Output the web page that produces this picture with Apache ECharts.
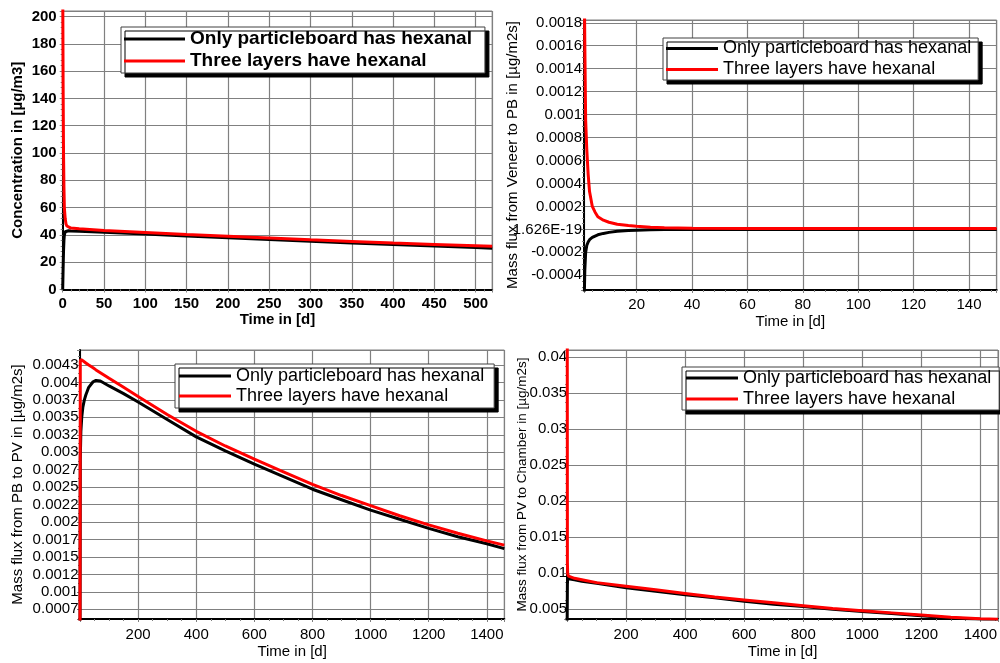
<!DOCTYPE html>
<html><head><meta charset="utf-8">
<script src="https://cdn.jsdelivr.net/npm/echarts@6/dist/echarts.min.js"></script>
<style>html,body{margin:0;padding:0;background:#fff}#c{width:1000px;height:663px}</style>
</head><body><div id="c"></div>
<script>
const seriesNames = ['Only particleboard has hexanal', 'Three layers have hexanal'];

// Panel 1: concentration in chamber
const t1 = [0, 0.5, 1, 1.5, 2, 3, 4, 5, 7, 10, 20, 50, 100, 150, 200, 250, 300, 350, 400, 450, 500, 520];
const concOnly  = [0, 15, 28, 36, 40, 42.3, 42.8, 43.0, 43.0, 42.9, 42.6, 41.9, 40.6, 39.2, 37.9, 36.6, 35.3, 34.1, 32.9, 31.8, 30.7, 30.3];
const concThree = [230, 150, 100, 75, 60, 52, 48, 46.5, 45.5, 45, 44.5, 43.3, 41.8, 40.3, 39.0, 37.7, 36.4, 35.2, 34.0, 33.0, 32.0, 31.6];

// Panel 2: mass flux veneer -> PB
const t2 = [1, 1.3, 1.6, 2, 2.5, 3, 4, 5, 6, 8, 10, 13, 17, 20, 25, 30, 40, 60, 100, 150];
const fluxVPOnly  = [-0.0007, -0.00035, -0.0002, -0.00014, -0.00011, -0.00009, -0.00007, -0.000058, -0.000047, -0.000035, -0.000026, -0.000017, -0.00001, -0.000007, -0.000004, -0.000002, -0.000001, 0, 0, 0];
const fluxVPThree = [0.0024, 0.0016, 0.00095, 0.0007, 0.00048, 0.00033, 0.0002, 0.00015, 0.00011, 0.00008, 0.000062, 0.000045, 0.000033, 0.000027, 0.000019, 0.000014, 0.00001, 0.000008, 0.000008, 0.000008];

// Panel 3: mass flux PB -> PV
const t3 = [0, 1, 3, 6, 10, 15, 20, 30, 45, 55, 70, 100, 150, 200, 300, 400, 500, 600, 700, 800, 900, 1000, 1100, 1200, 1300, 1400, 1460];
const fluxPBOnly  = [0.0003, 0.0029, 0.0033, 0.0035, 0.00365, 0.00375, 0.00382, 0.00393, 0.00401, 0.00403, 0.00402, 0.00395, 0.00384, 0.00372, 0.00347, 0.00322, 0.00302, 0.00283, 0.00265, 0.00247, 0.00232, 0.00217, 0.00204, 0.00191, 0.00179, 0.00169, 0.00162];
const fluxPBThree = [0.0003, 0.0043, 0.00433, 0.00432, 0.00431, 0.0043, 0.00428, 0.00425, 0.00421, 0.00418, 0.00414, 0.00406, 0.00393, 0.0038, 0.00354, 0.0033, 0.00309, 0.0029, 0.00272, 0.00254, 0.00238, 0.002235, 0.00209, 0.00196, 0.00184, 0.00173, 0.00167];
const p3TickValues = [0.00075, 0.001, 0.00125, 0.0015, 0.00175, 0.002, 0.00225, 0.0025, 0.00275, 0.003, 0.00325, 0.0035, 0.00375, 0.004, 0.00425];
const p3TickLabels = ['0.0007', '0.001', '0.0012', '0.0015', '0.0017', '0.002', '0.0022', '0.0025', '0.0027', '0.003', '0.0032', '0.0035', '0.0037', '0.004', '0.0043'];

// Panel 4: mass flux PV -> chamber
const t4 = [0, 1, 2, 5, 10, 25, 50, 100, 200, 300, 400, 500, 600, 700, 800, 900, 1000, 1100, 1200, 1300, 1400, 1460];
const fluxPCOnly  = [0.002, 0.0085, 0.0093, 0.0093, 0.0092, 0.0091, 0.0089, 0.0086, 0.008, 0.0075, 0.007, 0.0066, 0.0061, 0.0057, 0.0054, 0.005, 0.0047, 0.0044, 0.0041, 0.0038, 0.0036, 0.0035];
const fluxPCThree = [0.08, 0.0115, 0.0099, 0.0096, 0.0095, 0.0093, 0.0091, 0.0087, 0.0082, 0.0077, 0.0072, 0.0067, 0.0063, 0.0059, 0.0055, 0.0051, 0.0048, 0.0045, 0.0042, 0.0039, 0.0037, 0.0036];

const FONT = '"Liberation Sans", Arial, sans-serif';
const GRIDC = '#808080';
function pairs(t, v) { return t.map((x, i) => [x, v[i]]); }
function strip(s) { return s.indexOf('.') >= 0 ? s.replace(/0+$/, '').replace(/\.$/, '') : s; }

function axis(o) {
  return {
    type: 'value', gridIndex: o.grid, min: o.min, max: o.max,
    minInterval: o.interval, maxInterval: o.interval,
    name: o.name, nameLocation: 'middle', nameGap: o.nameGap, nameMoveOverlap: false,
    nameTextStyle: { fontFamily: FONT, fontSize: o.nameSize || 15, fontWeight: o.bold ? 'bold' : 'normal', color: '#000' },
    axisLine: { show: true, onZero: false, lineStyle: { color: '#000', width: 2 } },
    axisTick: { show: true, length: 3, lineStyle: { color: GRIDC } },
    minorTick: { show: true, splitNumber: o.minor, length: 2, lineStyle: { color: GRIDC } },
    splitLine: { show: true, lineStyle: { color: GRIDC, width: 1.2 } },
    axisLabel: {
      fontFamily: FONT, fontSize: o.labelSize || 15, fontWeight: o.bold ? 'bold' : 'normal', color: '#000',
      margin: o.margin, showMinLabel: o.showMin, showMaxLabel: false, hideOverlap: false,
      formatter: o.fmt || (v => String(v))
    }
  };
}

function legend(o) {
  return {
    left: o.left, top: o.top, orient: 'vertical', data: seriesNames,
    icon: 'rect', itemWidth: o.itemWidth, itemHeight: 3, itemGap: 0,
    padding: o.padding, backgroundColor: '#fff', borderColor: '#404040', borderWidth: 1,
    shadowColor: '#000', shadowBlur: 0, shadowOffsetX: 4, shadowOffsetY: 4,
    selectedMode: false,
    textStyle: { fontFamily: FONT, fontSize: o.fontSize, fontWeight: o.bold ? 'bold' : 'normal', color: '#000', lineHeight: o.lineHeight }
  };
}

function line(name, data, xi, color) {
  return { type: 'line', name, data, xAxisIndex: xi, yAxisIndex: xi, showSymbol: false, symbol: 'none',
    lineStyle: { color, width: 3 }, itemStyle: { color }, clip: true, animation: false };
}

const option = {
  animation: false,
  backgroundColor: '#fff',
  grid: [
    { left: 62.7, top: 11, width: 429.5, height: 278.5, show: true, borderColor: GRIDC, borderWidth: 1 },
    { left: 584, top: 20, width: 412.7, height: 270, show: true, borderColor: GRIDC, borderWidth: 1 },
    { left: 80, top: 350, width: 424.3, height: 269, show: true, borderColor: GRIDC, borderWidth: 1 },
    { left: 567.1, top: 350, width: 442, height: 269, show: true, borderColor: GRIDC, borderWidth: 1 }
  ],
  xAxis: [
    axis({ grid: 0, min: 0, max: 520, interval: 50, minor: 5, name: 'Time in [d]', nameGap: 23, bold: true, margin: 7, showMin: true }),
    axis({ grid: 1, min: 1, max: 150, interval: 20, minor: 5, name: 'Time in [d]', nameGap: 24, margin: 7, showMin: false }),
    axis({ grid: 2, min: 0, max: 1460, interval: 200, minor: 4, name: 'Time in [d]', nameGap: 25, margin: 8, showMin: false }),
    axis({ grid: 3, min: 0, max: 1460, interval: 200, minor: 4, name: 'Time in [d]', nameGap: 25, margin: 8, showMin: false })
  ],
  yAxis: [
    axis({ grid: 0, min: 0, max: 204, interval: 20, minor: 5, name: 'Concentration in [µg/m3]', nameGap: 37, bold: true, margin: 6, showMin: true }),
    axis({ grid: 1, min: -0.000528, max: 0.001824, interval: 0.0002, minor: 4, name: 'Mass flux from Veneer to PB in [µg/m2s]', nameGap: 64, margin: 2, showMin: false,
      fmt: v => Math.abs(v) < 1e-12 ? '1.626E-19' : strip(v.toFixed(4)) }),
    axis({ grid: 2, min: 0.000611, max: 0.004465, interval: 0.00025, minor: 2, name: 'Mass flux from PB to PV in [µg/m2s]', nameGap: 54.5, margin: 1.5, showMin: false,
      fmt: v => { const i = p3TickValues.findIndex(t => Math.abs(t - v) < 1e-9); return i >= 0 ? p3TickLabels[i] : ''; } }),
    axis({ grid: 3, min: 0.00365, max: 0.041, interval: 0.005, minor: 4, name: 'Mass flux from PV to Chamber in [µg/m2s]', nameGap: 37.6, nameSize: 13.5, margin: 0, showMin: false,
      fmt: v => strip(v.toFixed(3)) })
  ],
  legend: [
    legend({ left: 121, top: 27, itemWidth: 61, padding: [1, 13, 1, 3], fontSize: 19, bold: true, lineHeight: 22 }),
    legend({ left: 663, top: 38, itemWidth: 52, padding: [0, 7, 0, 3], fontSize: 18, lineHeight: 21 }),
    legend({ left: 175, top: 364, itemWidth: 52, padding: [2, 10, 2, 4], fontSize: 18, lineHeight: 20 }),
    legend({ left: 682, top: 367, itemWidth: 52, padding: [0.5, 8, 0.5, 4], fontSize: 18, lineHeight: 21 })
  ],
  series: [
    line(seriesNames[0], pairs(t1, concOnly), 0, '#000'),
    line(seriesNames[1], pairs(t1, concThree), 0, '#ff0000'),
    line(seriesNames[0], pairs(t2, fluxVPOnly), 1, '#000'),
    line(seriesNames[1], pairs(t2, fluxVPThree), 1, '#ff0000'),
    line(seriesNames[0], pairs(t3, fluxPBOnly), 2, '#000'),
    line(seriesNames[1], pairs(t3, fluxPBThree), 2, '#ff0000'),
    line(seriesNames[0], pairs(t4, fluxPCOnly), 3, '#000'),
    line(seriesNames[1], pairs(t4, fluxPCThree), 3, '#ff0000')
  ]
};
const chart = echarts.init(document.getElementById('c'), null, { renderer: 'canvas' });
chart.setOption(option);
</script>
</body></html>
